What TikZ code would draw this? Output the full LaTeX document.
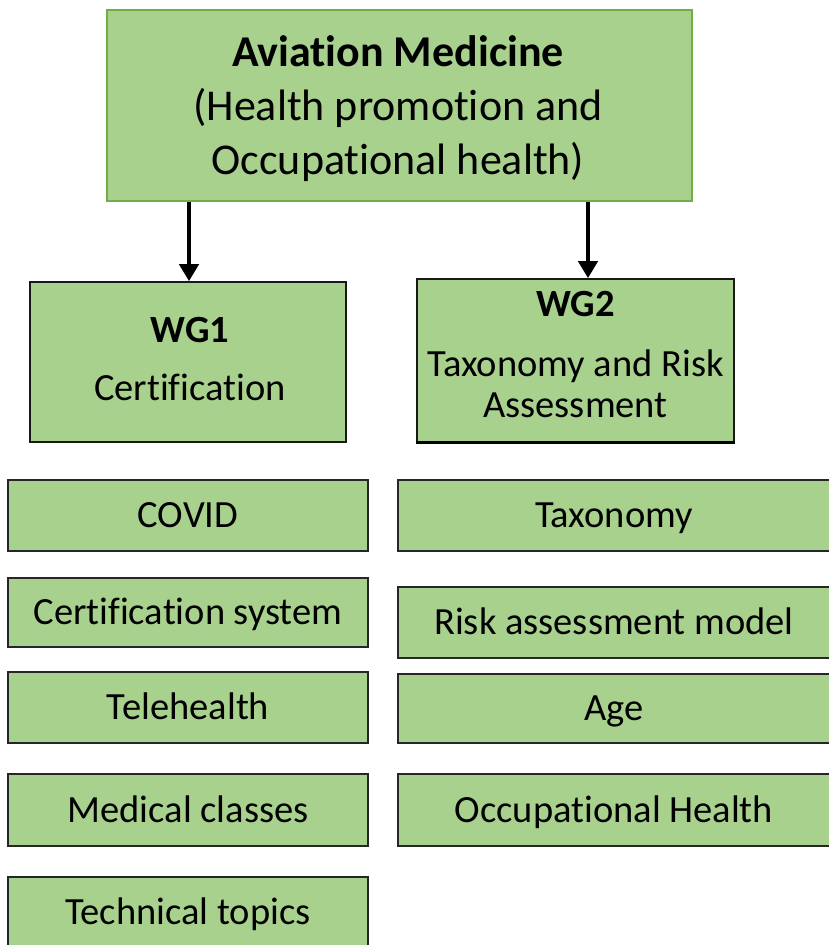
\documentclass[tikz,border=0pt]{standalone}
\usepackage{fontspec}
\setmainfont[RawFeature={-liga;-clig;-calt;-dlig}]{Carlito}
\usetikzlibrary{arrows.meta}
\definecolor{boxgreen}{HTML}{A9D18E}
\definecolor{edgegreen}{HTML}{70AD47}

\begin{document}
\begin{tikzpicture}[x=1pt,y=-1pt]
    \tikzset{topbox/.style = {shape=rectangle, draw=edgegreen, line width=1.6pt, fill=boxgreen, inner sep=0pt}}
    \tikzset{wgbox/.style = {shape=rectangle, draw=black!90, line width=1.6pt, fill=boxgreen, inner sep=0pt}}
    \tikzset{topic/.style = {shape=rectangle, draw=black!85, line width=1.5pt, fill=boxgreen, inner sep=0pt,
        font=\fontsize{38.5}{41}\selectfont, text height=24.7pt, text depth=0pt}}
    \tikzset{boxtext/.style = {align=center, inner sep=0pt}}
    \tikzset{arr/.style = {draw=black, line width=4pt, -{Triangle[width=19pt,length=17pt]}}}

    \useasboundingbox (0,0) rectangle (828,945);

    % heads
    \node[topbox, minimum width=585pt, minimum height=191pt] (avmed) at (399.5,105.5) {};
    \node[boxtext, font=\fontsize{44}{54}\selectfont] (avmedtxt) at (398,109)
        {\textbf{Aviation Medicine}\\(Health promotion and\\Occupational health)};
    \node[wgbox, minimum width=316pt, minimum height=160pt] (wgone) at (188,362) {};
    \node[boxtext, font=\fontsize{38.5}{41}\selectfont] (wgonetxt) at (190,359)
        {\textbf{WG1}\\[17pt]Certification};
    \node[wgbox, minimum width=317pt, minimum height=163pt] (wgtwo) at (575.5,360.5) {};
    \draw[line width=3pt] (wgtwo.south west) -- (wgtwo.south east);
    \node[boxtext, font=\fontsize{38.5}{41}\selectfont] (wgtwotxt) at (575.5,355)
        {\textbf{WG2}\\[19pt]Taxonomy and Risk\\Assessment};

    % WG1 topics
    \node[topic, minimum width=360pt, minimum height=71pt] (covid) at (188,515.5) {COVID};
    \node[topic, minimum width=360pt, minimum height=69pt] (certsys) at (188,612.5) {Certification system};
    \node[topic, minimum width=360pt, minimum height=71pt] (tele) at (188,707.5) {Telehealth};
    \node[topic, minimum width=360pt, minimum height=72pt] (medcls) at (188,810) {Medical classes};
    \node[topic, minimum width=360pt, minimum height=70pt] (techtop) at (188,912) {Technical topics};

    % WG2 topics
    \node[topic, minimum width=432pt, minimum height=71pt] (taxo) at (614,515.5) {Taxonomy};
    \node[topic, minimum width=432pt, minimum height=71pt] (riskmod) at (614,622.5) {Risk assessment model};
    \node[topic, minimum width=432pt, minimum height=69pt] (age) at (614,708.5) {Age};
    \node[topic, minimum width=432pt, minimum height=72pt] (occhealth) at (614,810) {Occupational Health};

    % arrows
    \coordinate (tipone) at ([xshift=1pt]wgone.north);
    \coordinate (tiptwo) at ([xshift=12.5pt]wgtwo.north);
    \draw[arr] (avmed.south -| tipone) -- (tipone);
    \draw[arr] (avmed.south -| tiptwo) -- (tiptwo);
\end{tikzpicture}
\end{document}
